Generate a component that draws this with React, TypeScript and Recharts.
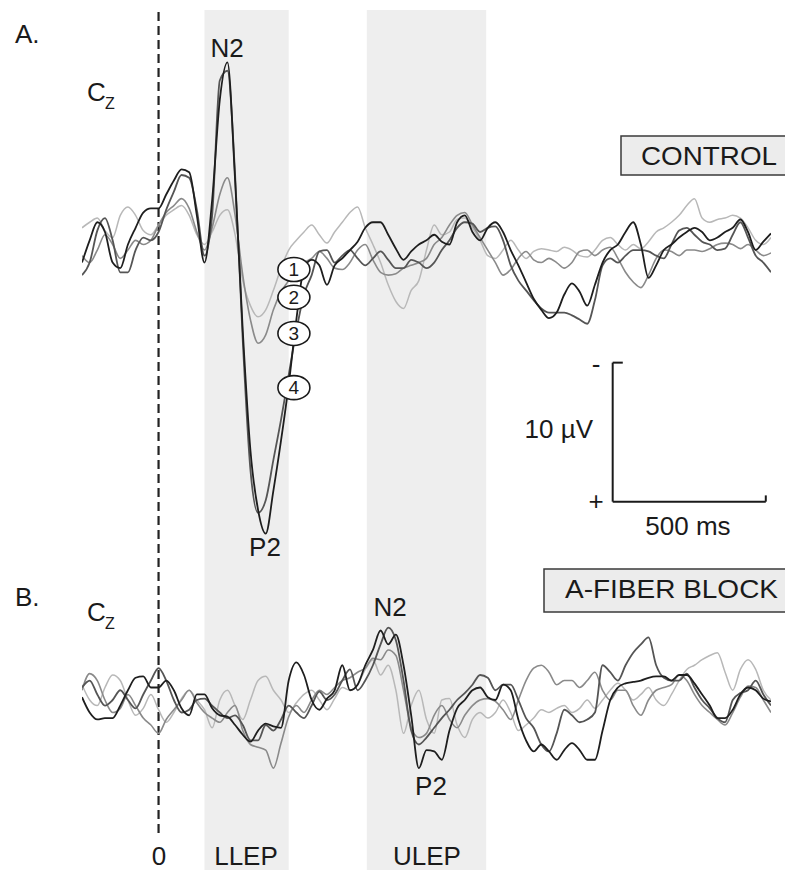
import { LineChart, Line, XAxis, YAxis, ReferenceArea, ReferenceLine, ReferenceDot } from "recharts";

// sample times (ms after stimulus), 25 ms apart
const TIMES = Array.from({ length: 91 }, (_, i) => -250 + i * 25);

// Cz averages in µV (negative up), CONTROL condition, blocks 1-4
const A1 = [-1.6, -2.0, -2.3, -1.4, -0.9, -2.5, -3.1, -2.5, -1.4, -1.1,
  -1.8, -2.5, -2.9, -3.2, -2.5, -1.1, -0.4, -1.3, -2.5, -2.9,
  -1.1, 2.2, 4.0, 4.8, 4.3, 2.9, 1.3, 0, -0.7, -1.3,
  -1.8, -1.1, -0.5, -1.3, -2.0, -2.7, -3.1, -1.6, -0.4, 0.9,
  2.5, 3.7, 4.2, 2.9, 2.2, 0, -1.8, -1.1, -1.3, -2.2,
  -2.3, -1.6, -0.7, 0.4, 0.6, 0, -0.7, 0, 0.6, 0.1,
  -0.1, 0, 0.1, -0.2, 0, 0.4, 0.5, 0, -0.7, -0.9,
  -0.4, 0, -0.4, -0.1, -0.6, -1.3, -1.6, -2.0, -2.5, -3.2,
  -3.7, -2.3, -2.0, -2.2, -2.3, -2.5, -2.3, -1.6, -0.7, -0.4,
  -0.9];
const A2 = [0.4, 0.9, 0, -1.1, -0.4, 0.6, 0, -0.7, -0.4, -0.7,
  -1.8, -2.7, -3.2, -3.7, -3.0, -1.3, 0, -1.6, -4.0, -5.2,
  -2.5, 1.8, 5.0, 6.7, 6.1, 4.3, 3.0, 2.2, 1.3, 0.9,
  0.6, 0.1, 0.6, 1.3, 1.4, 0.9, 0, -0.4, 0.7, 1.6,
  1.8, 1.7, 1.3, 1.1, 0.9, 0.6, -0.4, -0.9, -1.8, -2.5,
  -2.7, -1.8, -0.9, 0, 0.9, 1.8, 1.4, 0.6, 0.1, 0.7,
  0.9, 0.6, 0.9, 1.3, 0.9, 0.1, 0, 0.4, 0, -0.2,
  0.6, 1.6, 2.3, 2.7, 1.8, 0.6, 0, 0.1, 0.4, 0,
  0, 0.1, -0.1, -0.4, -0.5, -0.4, -0.1, -0.4, 0, 0.4,
  0.2];
const A3 = [1.8, 0.9, -1.4, -2.3, -0.7, 1.6, 1.6, 0, -0.9, -0.7,
  -1.3, -2.9, -4.2, -5.4, -5.2, -2.9, 0.4, -2.5, -12.2, -12.9,
  -5.4, 6.5, 15.8, 18.9, 18.0, 15.1, 12.2, 9.0, 5.8, 3.2,
  1.8, 0.1, 0, 0.9, 0.4, 0, 0.6, 1.1, 0.6, 0.1,
  0.7, 1.3, 1.3, 0.7, 0.9, 1.3, 0.9, 0, -0.7, -1.6,
  -2.0, -1.9, -1.3, -1.6, -1.7, -0.7, 1.1, 2.2, 2.9, 3.6,
  4.2, 4.5, 4.5, 4.5, 4.7, 5.0, 5.3, 3.6, 1.1, 0.6,
  0.9, 0.4, 0, 0, 0.1, 0.4, 0.6, -0.4, -1.4, -1.6,
  -1.1, -0.6, -0.4, 0, -0.1, -1.1, -2.0, -0.9, 0.4, 0.9,
  1.6];
const A4 = [0.9, -0.7, -2.0, -1.3, 0.9, 1.3, -0.4, -1.6, -2.7, -3.0,
  -3.0, -4.0, -5.0, -5.8, -5.6, -2.5, 0.9, -3.6, -10.8, -13.5,
  -5.0, 5.8, 14.4, 18.7, 20.4, 17.3, 13.7, 9.7, 5.0, 1.3,
  0.7, 1.1, 2.5, 1.1, 0.6, 0, -0.6, -1.6, -2.0, -2.0,
  -1.1, -0.1, 0.7, 0.1, -0.4, -0.7, -1.1, -0.6, -0.4, -2.0,
  -2.5, -1.3, -0.7, -1.6, -2.0, -1.3, 0, 1.1, 2.3, 3.5,
  4.3, 4.9, 4.5, 3.2, 2.4, 3.0, 4.0, 2.5, 0.9, 0,
  -0.4, -1.3, -2.0, -0.4, 2.0, 1.1, 0, -0.4, -0.9, -1.3,
  -1.6, -1.3, -0.7, -0.9, -1.3, -1.6, -2.2, -1.3, 0, -0.6,
  -1.2];

// Cz averages in µV, A-FIBER BLOCK condition, blocks 1-4
const B1 = [-0.6, 0.5, 0.9, -0.4, -1.3, -0.9, 0.5, 1.6, 1.1, 0.1,
  1.2, 2.1, 1.4, 0.4, -0.2, 0.5, 1.2, 2.5, 0.5, -0.2,
  0.9, 1.9, 0.5, -0.9, -1.2, -0.2, 0.5, 1.4, 0.7, 0.1,
  -0.2, 0.5, 1.2, 0.4, -0.4, -0.2, -0.6, -1.7, -2.4, -1.3,
  -2.0, -0.2, 2.9, 0.9, -0.2, 1.9, 2.9, 0.5, 0.4, 2.3,
  3.2, 1.9, 1.4, 1.8, 1.4, 0.5, 1.4, 2.7, 2.3, 1.8,
  1.2, 1.4, 1.1, 0.9, 1.4, 1.1, 0.5, 1.1, 0.5, -0.2,
  -0.7, -0.2, 0.5, 0.1, -0.4, 0.5, 0.9, 0.1, -0.9, -1.7,
  -2.0, -2.4, -2.7, -2.9, -1.5, -0.2, -1.7, -2.4, -1.7, -0.2,
  0.5];
const B2 = [-0.2, -1.4, -0.9, 0.5, 1.4, 1.1, 0.1, 0.9, 1.8, 2.3,
  2.9, 1.9, 1.2, 0.5, -0.2, 0.7, 1.4, 1.8, 2.1, 1.4,
  0.9, 2.7, 3.7, 3.9, 4.1, 5.4, 3.6, 1.7, 0.9, 1.4,
  0.5, -0.2, 0.1, -0.4, -0.9, -1.1, -1.5, -1.8, -2.5, -2.4,
  -3.1, -2.7, -0.2, 2.5, 3.2, 2.9, 1.6, 0.9, 1.9, 2.5,
  1.6, 0.9, 0.5, 0.4, 0.6, 1.2, 1.9, 0.5, -0.9, -1.8,
  -2.0, -1.5, -0.6, -0.9, -0.9, -0.4, -0.9, -1.5, -0.2, 0.5,
  -0.2, -0.2, 0.9, 1.6, 0.5, -0.2, -0.4, -0.6, -1.3, -0.9,
  0.1, 0.9, 1.4, 1.9, 2.3, 1.4, 0.3, -0.5, -0.4, 0.5,
  1.4];
const B3 = [-0.4, -0.9, 0.1, 0.9, 0.5, -0.2, 0.5, 1.1, 0.1, -0.9,
  -1.8, -0.9, 0.5, 1.4, 1.2, 0.5, 0.4, 0.9, 1.4, 1.8,
  1.6, 2.3, 3.4, 3.4, 2.3, 2.7, 1.9, 0.9, 1.4, 1.8,
  0.9, -0.1, 0.5, 0.1, -0.9, -1.7, -0.2, -0.9, -2.0, -3.5,
  -4.7, -3.8, -0.9, 2.7, 3.7, 3.2, 2.5, 1.8, 1.2, 0.5,
  0, -0.6, -1.3, -1.1, -0.2, -0.6, -0.6, 0.5, 1.8, 2.5,
  3.7, 4.2, 2.9, 1.2, 1.6, 2.1, 1.9, 1.4, -2.0, -1.5,
  -0.9, -2.0, -2.9, -3.5, -4.0, -2.0, -1.1, -0.9, -0.9, -1.4,
  -0.4, 0.5, 1.1, 1.8, 2.1, 0.5, 0, -0.2, -0.9, 0.1,
  0.9];
const B4 = [0.3, 1.4, 1.9, 1.8, 1.8, 0.9, -0.2, -1.1, -1.2, -0.4,
  -0.4, -0.9, -0.2, 1.1, 1.6, 0.1, 0.1, 1.1, 1.6, 1.7,
  2.3, 3.0, 3.5, 2.7, 2.2, 2.4, 2.5, -0.9, -2.2, -1.3,
  0.5, 1.2, 0.4, -0.2, -2.0, -0.2, -0.6, -2.0, -3.1, -4.5,
  -3.5, -4.2, -2.0, 1.6, 5.4, 4.1, 4.2, 4.8, 2.7, 1.1,
  0.5, -0.2, -0.4, 0.3, 0.5, -0.6, -0.2, 1.9, 3.4, 4.2,
  3.7, 4.2, 4.8, 4.1, 3.6, 4.1, 4.8, 4.8, 2.7, 0.5,
  -0.4, -0.7, -0.8, -0.9, -1.1, -1.2, -1.2, -0.9, -1.3, -1.3,
  -0.7, 0.1, 0.9, 1.8, 1.8, 1.2, 0.1, -0.4, -0.2, 0.4,
  0.6];

// analysis windows (ms)
const WINDOWS = [
  { name: "LLEP", from: 150, to: 425 },
  { name: "ULEP", from: 680, to: 1070 },
];

// block numbers marked on the rising P2 slope of panel A
const BADGE_T = 442;
const BADGE_UV = [1.4, 3.4, 6.0, 9.9];

// calibration bar: 500 ms x 10 µV
const BAR_T = 1483;
const BAR_MS = 500;
const BAR_TOP = 8.1;
const BAR_UV = 10;

const GRAYS = ["#b8b8b8", "#8a8a8a", "#555555", "#1e1e1e"];
const WIDTHS = [1.5, 1.6, 1.8, 1.8];
const INK = "#1a1a1a";
const FONT = "'Liberation Sans', Arial, Helvetica, sans-serif";

const rows = TIMES.map((t, i) => ({
  t,
  a1: A1[i], a2: A2[i], a3: A3[i], a4: A4[i],
  b1: B1[i], b2: B2[i], b3: B3[i], b4: B4[i],
}));

const badge = (n: number) => (props: any) => (
  <g>
    <ellipse cx={props.cx} cy={props.cy} rx={16} ry={12} fill="#fff" stroke={INK} strokeWidth={1.6} />
    <text x={props.cx} y={props.cy + 6.5} textAnchor="middle" fontSize={19} fontFamily={FONT} fill={INK}>
      {n}
    </text>
  </g>
);

const Txt = ({ x, y, size = 26, anchor = "start", len, children }: any) => (
  <text
    x={x}
    y={y}
    fontSize={size}
    fontFamily={FONT}
    fill={INK}
    textAnchor={anchor}
    textLength={len}
    lengthAdjust={len ? "spacingAndGlyphs" : undefined}
  >
    {children}
  </text>
);

const Annotations = () => (
  <svg width={785} height={870} style={{ position: "absolute", left: 0, top: 0, pointerEvents: "none" }}>
    <Txt x={15} y={43}>A.</Txt>
    <Txt x={87} y={101}>C</Txt>
    <Txt x={105} y={109} size={16}>Z</Txt>
    <Txt x={227} y={57} anchor="middle">N2</Txt>
    <Txt x={265} y={556} anchor="middle">P2</Txt>

    <rect x={621} y={136} width={200} height={39} fill="#ececec" stroke="#3a3a3a" strokeWidth={1.5} />
    <Txt x={641} y={165} len={136}>CONTROL</Txt>

    <Txt x={593} y={438} anchor="end">10 µV</Txt>
    <Txt x={596} y={373} anchor="middle">-</Txt>
    <Txt x={596} y={510} anchor="middle">+</Txt>
    <Txt x={688} y={535} anchor="middle">500 ms</Txt>

    <Txt x={15} y={606}>B.</Txt>
    <Txt x={87} y={621}>C</Txt>
    <Txt x={105} y={629} size={16}>Z</Txt>
    <Txt x={390} y={616} anchor="middle">N2</Txt>
    <Txt x={431} y={795} anchor="middle">P2</Txt>

    <rect x={544} y={569} width={260} height={43} fill="#ececec" stroke="#3a3a3a" strokeWidth={1.5} />
    <Txt x={565} y={598} len={213}>A-FIBER BLOCK</Txt>

    <Txt x={159} y={865} anchor="middle">0</Txt>
    <Txt x={246} y={865} anchor="middle">LLEP</Txt>
    <Txt x={427} y={865} anchor="middle">ULEP</Txt>
  </svg>
);

export default function App() {
  return (
    <div style={{ position: "absolute", left: 0, top: 0, width: 785, height: 870, background: "#fff" }}>
      <LineChart width={785} height={870} data={rows} margin={{ top: 10, right: 14, bottom: 0, left: 82 }}>
        <XAxis dataKey="t" type="number" domain={[-250, 2000]} allowDataOverflow hide />
        {/* 13.9 px per µV in both panels, negative plotted upward */}
        <YAxis yAxisId="a" type="number" domain={[-17.27, 44.6]} allowDataOverflow reversed hide />
        <YAxis yAxisId="b" type="number" domain={[-49.14, 12.73]} allowDataOverflow reversed hide />

        {WINDOWS.map((w) => (
          <ReferenceArea key={w.name} yAxisId="a" x1={w.from} x2={w.to} fill="#eeeeee" fillOpacity={1} stroke="none" />
        ))}
        <ReferenceLine
          yAxisId="b"
          segment={[{ x: 0, y: -49 }, { x: 0, y: 10.1 }]}
          stroke="#222"
          strokeWidth={2.2}
          strokeDasharray="9 5"
        />

        {["a1", "a2", "a3", "a4"].map((k, i) => (
          <Line key={k} yAxisId="a" dataKey={k} type="monotone" stroke={GRAYS[i]} strokeWidth={WIDTHS[i]} dot={false} isAnimationActive={false} />
        ))}
        {["b1", "b2", "b3", "b4"].map((k, i) => (
          <Line key={k} yAxisId="b" dataKey={k} type="monotone" stroke={GRAYS[i]} strokeWidth={WIDTHS[i]} dot={false} isAnimationActive={false} />
        ))}

        {BADGE_UV.map((v, i) => (
          <ReferenceDot key={i} yAxisId="a" x={BADGE_T} y={v} r={12} shape={badge(i + 1)} />
        ))}

        {/* calibration bar */}
        <ReferenceLine yAxisId="a" segment={[{ x: BAR_T, y: BAR_TOP }, { x: BAR_T, y: BAR_TOP + BAR_UV }]} stroke={INK} strokeWidth={2} />
        <ReferenceLine yAxisId="a" segment={[{ x: BAR_T, y: BAR_TOP + BAR_UV }, { x: BAR_T + BAR_MS, y: BAR_TOP + BAR_UV }]} stroke={INK} strokeWidth={2} />
        <ReferenceLine yAxisId="a" segment={[{ x: BAR_T, y: BAR_TOP }, { x: BAR_T + 33, y: BAR_TOP }]} stroke={INK} strokeWidth={2} />
        <ReferenceLine yAxisId="a" segment={[{ x: BAR_T + BAR_MS, y: BAR_TOP + BAR_UV }, { x: BAR_T + BAR_MS, y: BAR_TOP + BAR_UV - 0.45 }]} stroke={INK} strokeWidth={2} />
      </LineChart>
      <Annotations />
    </div>
  );
}
